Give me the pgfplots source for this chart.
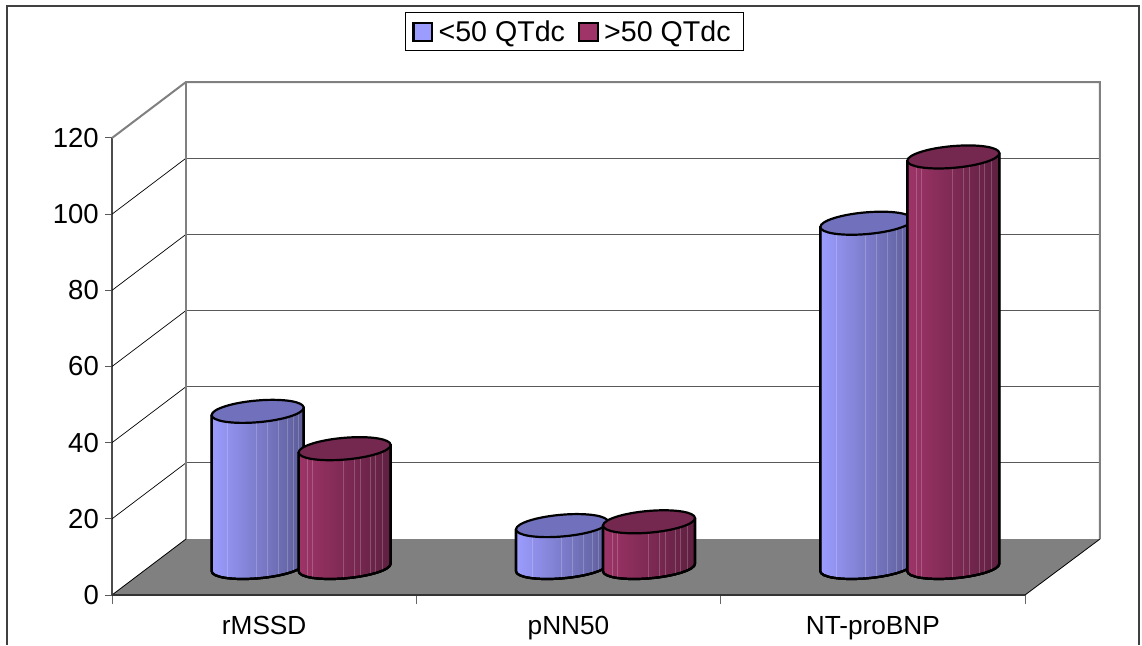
\documentclass[border=0pt]{standalone}
\usepackage{pgfplots}
\usepackage{pgfplotstable}
\usepackage{fontspec}
\setmainfont{Liberation Sans}
\pgfplotsset{compat=1.18}

\definecolor{blueL}{HTML}{9C9CFF}
\definecolor{blueD}{HTML}{5C5C98}
\definecolor{blueT}{HTML}{7070BC}
\definecolor{redL}{HTML}{9E3468}
\definecolor{redD}{HTML}{5E2040}
\definecolor{redT}{HTML}{74284F}
\definecolor{wallgray}{HTML}{808080}

% Mean values per category; cat 0.5, 1.5, 2.5 are the category centres
\pgfplotstableread{
cat v
0.5 41
1.5 11
2.5 90.4
}\lowgroup
\pgfplotstableread{
cat v
0.5 31.2
1.5 12
2.5 107.8
}\highgroup

% Cylinder mark: the data point is the centre of the top face, and \cylh is
% the height in pt. #2 is the sideways place of the series within its category.
\newcommand\definecylinder[6]{%
  \pgfdeclareplotmark{#1}{%
    \begin{scope}[line width=2.2pt,line join=round]
      \pgftransformshift{\pgfpoint{#2pt}{27.5pt}}%
      \def\cylpath{(-46pt,-3.75pt) -- (-46pt,-3.75pt-\cylh pt)
        .. controls (-46pt,-9.77pt-\cylh pt) and (-25.4pt,-12.97pt-\cylh pt) .. (0pt,-10.9pt-\cylh pt)
        .. controls (25.4pt,-8.83pt-\cylh pt) and (46pt,-2.27pt-\cylh pt) .. (46pt,3.75pt-\cylh pt)
        -- (46pt,3.75pt) -- cycle}
      \shade[left color=#3,right color=#4] \cylpath;
      \begin{scope}
        \clip \cylpath;
        \foreach \s in {#6}
          \draw[white,opacity=.2,line width=.9pt] (\s pt,15pt) -- (\s pt,-\cylh pt-15pt);
      \end{scope}
      \draw \cylpath;
      \draw[fill=#5] (46pt,3.75pt)
        .. controls (46pt,9.77pt) and (25.4pt,12.97pt) .. (0pt,10.9pt)
        .. controls (-25.4pt,8.83pt) and (-46pt,2.27pt) .. (-46pt,-3.75pt)
        .. controls (-46pt,-9.77pt) and (-25.4pt,-12.97pt) .. (0pt,-10.9pt)
        .. controls (25.4pt,-8.83pt) and (46pt,-2.27pt) .. (46pt,3.75pt) -- cycle;
    \end{scope}%
  }%
}
\definecylinder{cylblue}{-6.5}{blueL}{blueD}{blueT}{-30,-1,10,21,30,36,41}
\definecylinder{cylred}{80.5}{redL}{redD}{redT}{-37,-32,-1,10,16,26,31,38}

\pgfplotsset{
  cylinder series/.style={
    scatter, only marks, mark=#1,
    scatter/use mapped color={draw=black,fill=black},
    visualization depends on={3.808*\thisrow{v} \as \cylh},
  },
  swatch/.style={
    legend image code/.code={
      \draw[line width=2.2pt,fill=#1] (0pt,0pt) rectangle (18.5pt,18.5pt);
    }
  },
}

\begin{document}
\begin{tikzpicture}
\path[use as bounding box,fill=white] (0,0) rectangle (1142pt,645pt);
\draw[line width=1.4pt,color=black!75] (7pt,0pt) -- (7pt,639pt) -- (1139pt,639pt) -- (1139pt,0pt);
\begin{axis}[
  at={(112pt,50pt)}, anchor=south west,
  scale only axis, width=913pt, height=457pt,
  clip=false,
  xmin=0, xmax=3, ymin=0, ymax=120,
  axis x line*=bottom, axis y line*=left,
  axis line style={-,draw=black!70,line width=1.8pt},
  xtick={0.5,1.5,2.5},
  xticklabels={rMSSD,pNN50,NT-proBNP},
  minor xtick={0,1,2,3},
  major x tick style={draw=none},
  minor x tick style={draw=black!60,line width=1pt},
  minor tick length=9pt,
  ytick={0,20,40,60,80,100,120},
  y tick style={draw=black!65,line width=1pt},
  major tick length=7pt,
  tick align=outside,
  /pgf/number format/assume math mode=true,
  yticklabel style={font=\fontsize{27.5}{32}\selectfont,inner sep=0pt,xshift=-6pt},
  xticklabel style={font=\fontsize{26.2}{30}\selectfont,inner sep=0pt,yshift=-14pt},
  legend columns=2,
  legend style={
    at={(0.3209,1.2757)}, anchor=north west,
    draw=black, line width=.9pt,
    inner xsep=7pt, inner ysep=6pt,
    font=\fontsize{28.6}{33}\selectfont,
    nodes={inner xsep=1pt,inner ysep=2pt,anchor=base west},
    /tikz/every odd column/.append style={column sep=4.5pt},
    /tikz/every even column/.append style={column sep=12pt},
  },
  legend cell align=left,
]
% floor
\addplot[forget plot,fill=wallgray,draw=none]
  coordinates {(0,0) (0.2432,14.7) (3.2464,14.7) (3,0)} -- cycle;
\addplot[forget plot,draw=black,line width=.8pt] coordinates {(0,0) (0.2432,14.7)};
\addplot[forget plot,draw=black,line width=.8pt] coordinates {(3,0) (3.2464,14.7)};
\addplot[forget plot,draw=black!80,line width=2pt] coordinates {(0,0) (3,0)};
% back wall gridlines
\addplot[forget plot,draw=black!65,line width=1.1pt] coordinates {(0.2432,34.7) (3.2464,34.7)};
\addplot[forget plot,draw=black!65,line width=1.1pt] coordinates {(0.2432,54.7) (3.2464,54.7)};
\addplot[forget plot,draw=black!65,line width=1.1pt] coordinates {(0.2432,74.7) (3.2464,74.7)};
\addplot[forget plot,draw=black!65,line width=1.1pt] coordinates {(0.2432,94.7) (3.2464,94.7)};
\addplot[forget plot,draw=black!65,line width=1.1pt] coordinates {(0.2432,114.7) (3.2464,114.7)};
% side wall gridlines
\addplot[forget plot,draw=black,line width=.7pt] coordinates {(0,20) (0.2432,34.7)};
\addplot[forget plot,draw=black,line width=.7pt] coordinates {(0,40) (0.2432,54.7)};
\addplot[forget plot,draw=black,line width=.7pt] coordinates {(0,60) (0.2432,74.7)};
\addplot[forget plot,draw=black,line width=.7pt] coordinates {(0,80) (0.2432,94.7)};
\addplot[forget plot,draw=black,line width=.7pt] coordinates {(0,100) (0.2432,114.7)};
% wall outline
\addplot[forget plot,draw=wallgray,line width=2pt]
  coordinates {(0,120) (0.2432,134.7) (3.2464,134.7) (3.2464,14.7)};
\addplot[forget plot,draw=wallgray,line width=2pt]
  coordinates {(0.2432,134.7) (0.2432,14.7)};
% cylinders
\addplot[cylinder series=cylblue,swatch=blueL] table[x=cat,y=v] {\lowgroup};
\addlegendentry{<50 QTdc}
\addplot[cylinder series=cylred,swatch=redL] table[x=cat,y=v] {\highgroup};
\addlegendentry{>50 QTdc\rule{5pt}{0pt}}
\end{axis}
\end{tikzpicture}
\end{document}
